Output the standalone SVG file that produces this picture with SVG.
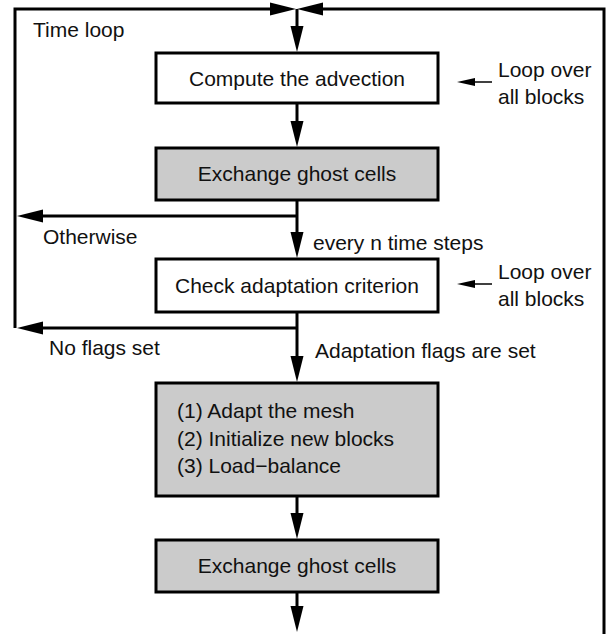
<svg xmlns="http://www.w3.org/2000/svg" width="610" height="634" viewBox="0 0 610 634">
<style>
.box{stroke:#000;stroke-width:3;}
.white{fill:#fff;}
.gray{fill:#cbcbcb;}
.t{font-family:"Liberation Sans",Arial,sans-serif;font-size:21px;fill:#111;}
.c{text-anchor:middle;}
.ln{stroke:#000;stroke-width:3;fill:none;}
.thin{stroke:#000;stroke-width:1.5;fill:none;}
</style>
<defs>
<marker id="ah" markerUnits="userSpaceOnUse" markerWidth="26" markerHeight="13" refX="6" refY="6.5" orient="auto" overflow="visible">
<path d="M0,0 L26,6.5 L0,13 z" fill="#000"/>
</marker>
<marker id="sah" markerUnits="userSpaceOnUse" markerWidth="18" markerHeight="8" refX="4" refY="4" orient="auto" overflow="visible">
<path d="M0,0 L18,4 L0,8 z" fill="#000"/>
</marker>
</defs>
<rect width="610" height="634" fill="#fff"/>
<g id="connectors">
<polyline class="ln" points="15,328 15,9 276,9" marker-end="url(#ah)"/>
<polyline class="ln" points="604,634 604,9 317,9" marker-end="url(#ah)"/>
<line class="ln" x1="297" y1="9" x2="297" y2="32" marker-end="url(#ah)"/>
<line class="ln" x1="297" y1="103" x2="297" y2="127" marker-end="url(#ah)"/>
<line class="ln" x1="297" y1="200" x2="297" y2="238" marker-end="url(#ah)"/>
<line class="ln" x1="297" y1="216" x2="37" y2="216" marker-end="url(#ah)"/>
<line class="ln" x1="297" y1="312" x2="297" y2="362" marker-end="url(#ah)"/>
<line class="ln" x1="297" y1="328" x2="37" y2="328" marker-end="url(#ah)"/>
<line class="ln" x1="297" y1="496" x2="297" y2="519" marker-end="url(#ah)"/>
<line class="ln" x1="297" y1="592" x2="297" y2="612" marker-end="url(#ah)"/>
<line class="thin" x1="492" y1="82" x2="471" y2="82" marker-end="url(#sah)"/>
<line class="thin" x1="492" y1="284" x2="471" y2="284" marker-end="url(#sah)"/>
</g>
<g id="labels">
<text class="t" x="33" y="37">Time loop</text>
<text class="t" x="498" y="77">Loop over</text>
<text class="t" x="498" y="104">all blocks</text>
<text class="t" x="43" y="244">Otherwise</text>
<text class="t" x="313" y="250">every n time steps</text>
<text class="t" x="498" y="279">Loop over</text>
<text class="t" x="498" y="306">all blocks</text>
<text class="t" x="49" y="355">No flags set</text>
<text class="t" x="315" y="358">Adaptation flags are set</text>
</g>
<g id="n1">
<rect class="box white" x="156" y="53" width="282" height="50"/>
<text class="t c" x="297" y="86">Compute the advection</text>
</g>
<g id="n2">
<rect class="box gray" x="156" y="148" width="282" height="52"/>
<text class="t c" x="297" y="181">Exchange ghost cells</text>
</g>
<g id="n3">
<rect class="box white" x="156" y="259" width="282" height="53"/>
<text class="t c" x="297" y="293">Check adaptation criterion</text>
</g>
<g id="n4">
<rect class="box gray" x="156" y="383" width="282" height="113"/>
<text class="t" x="177" y="418">(1) Adapt the mesh</text>
<text class="t" x="177" y="446">(2) Initialize new blocks</text>
<text class="t" x="177" y="473">(3) Load−balance</text>
</g>
<g id="n5">
<rect class="box gray" x="156" y="540" width="282" height="52"/>
<text class="t c" x="297" y="573">Exchange ghost cells</text>
</g>
</svg>
